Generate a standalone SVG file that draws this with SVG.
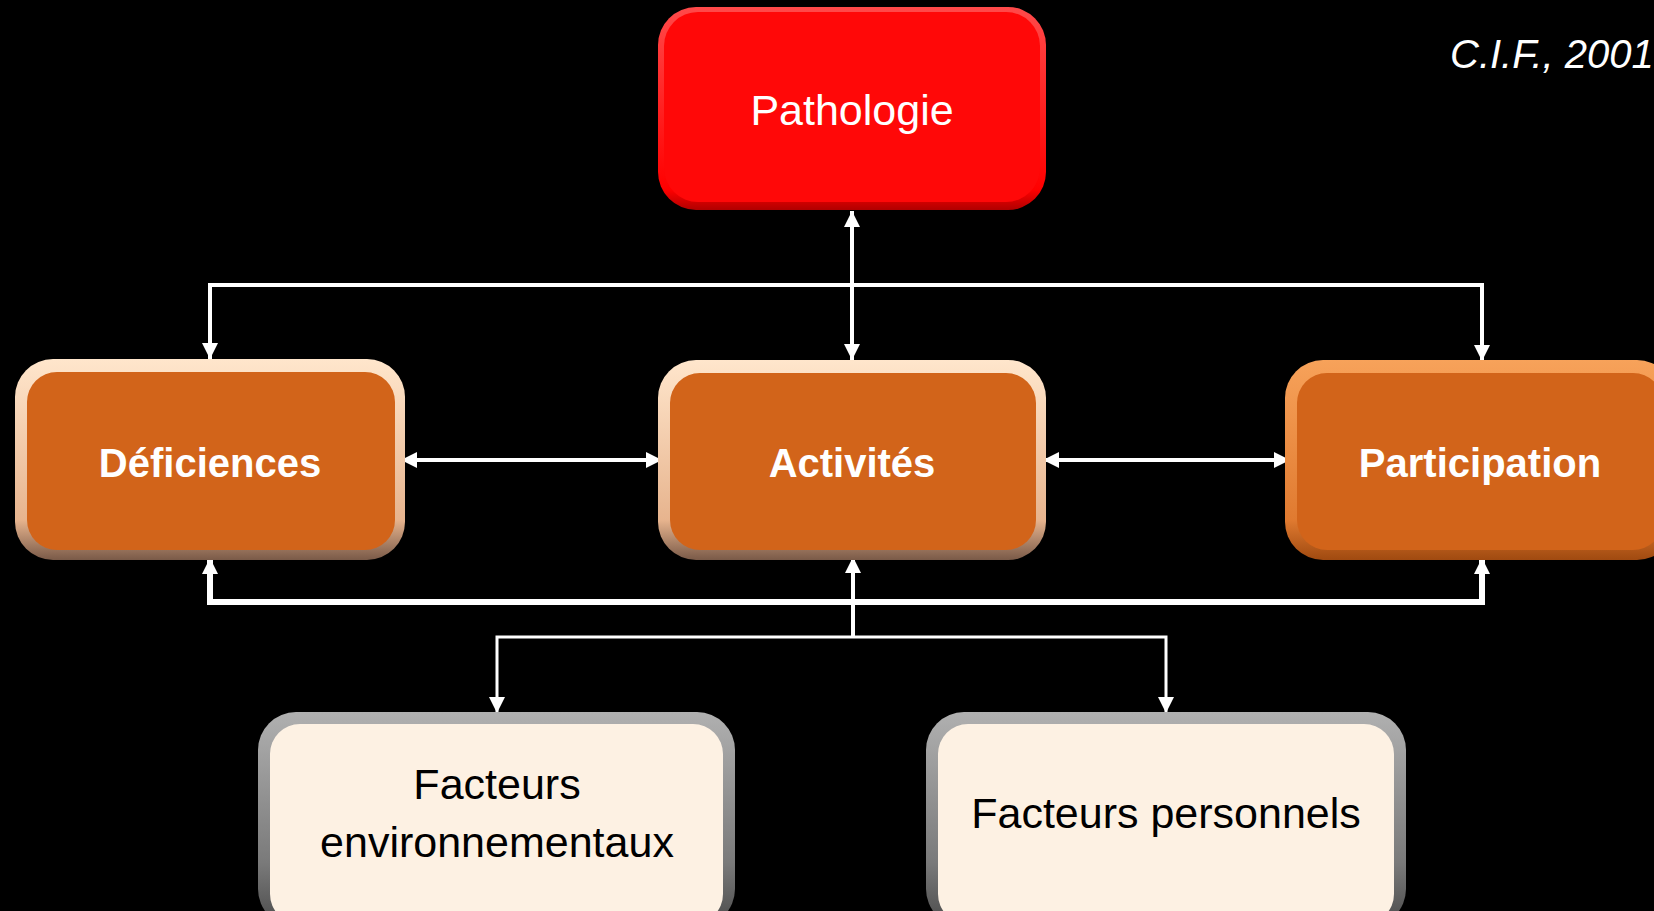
<svg xmlns="http://www.w3.org/2000/svg" width="1654" height="911" viewBox="0 0 1654 911">
<defs>
<style>
.lbl{font-family:"Liberation Sans",Arial,sans-serif;text-anchor:middle}
.w{fill:#ffffff}
.k{fill:#000000}
.b{font-weight:bold}
.con{fill:none;stroke:#ffffff;stroke-linejoin:miter}
</style>
<linearGradient id="gPeach" x1="0" y1="0" x2="0" y2="1">
<stop offset="0" stop-color="#ffe6cc"/>
<stop offset="0.8" stop-color="#e7b48e"/>
<stop offset="1" stop-color="#7a5a48"/>
</linearGradient>
<linearGradient id="gOrange" x1="0" y1="0" x2="0" y2="1">
<stop offset="0" stop-color="#f7a25a"/>
<stop offset="0.8" stop-color="#e07a30"/>
<stop offset="1" stop-color="#a04a10"/>
</linearGradient>
<linearGradient id="gGrey" x1="0" y1="0" x2="0" y2="1">
<stop offset="0" stop-color="#b0b0b0"/>
<stop offset="0.7" stop-color="#7a7a7a"/>
<stop offset="1" stop-color="#4a4a4a"/>
</linearGradient>
<linearGradient id="gRed" x1="0" y1="0" x2="0" y2="1">
<stop offset="0" stop-color="#ff4a4a"/>
<stop offset="0.9" stop-color="#ff0000"/>
<stop offset="1" stop-color="#b00000"/>
</linearGradient>
<marker id="arr" viewBox="0 0 16 16" refX="16" refY="8" markerWidth="16" markerHeight="16" markerUnits="userSpaceOnUse" orient="auto-start-reverse">
<path d="M0,0 L16,8 L0,16 Z" fill="#ffffff"/>
</marker>
</defs>
<rect width="1654" height="911" fill="#000000"/>

<g id="connectors">
<path class="con" stroke-width="4" d="M852,211 V360" marker-start="url(#arr)" marker-end="url(#arr)"/>
<path class="con" stroke-width="4" d="M210,359 V285 H1482 V361" marker-start="url(#arr)" marker-end="url(#arr)"/>
<path class="con" stroke-width="4" d="M401,460 H662" marker-start="url(#arr)" marker-end="url(#arr)"/>
<path class="con" stroke-width="4" d="M1043,460 H1290" marker-start="url(#arr)" marker-end="url(#arr)"/>
<path class="con" stroke-width="6" d="M210,558 V602 H1482 V558" marker-start="url(#arr)" marker-end="url(#arr)"/>
<path class="con" stroke-width="4" d="M853,637 V557" marker-end="url(#arr)"/>
<path class="con" stroke-width="3" d="M497,713 V637 H1166 V713" marker-start="url(#arr)" marker-end="url(#arr)"/>
</g>

<g id="pathologie">
<rect x="658" y="7" width="388" height="203" rx="38" fill="url(#gRed)"/>
<rect x="664" y="12" width="376" height="190" rx="34" fill="#ff0808"/>
<text class="lbl w" x="852" y="125" font-size="43">Pathologie</text>
</g>

<g id="deficiences">
<rect x="15" y="359" width="390" height="201" rx="38" fill="url(#gPeach)"/>
<rect x="27" y="372" width="368" height="178" rx="30" fill="#d2641a"/>
<text class="lbl w b" x="210" y="477" font-size="40">Déficiences</text>
</g>

<g id="activites">
<rect x="658" y="360" width="388" height="200" rx="38" fill="url(#gPeach)"/>
<rect x="670" y="373" width="366" height="177" rx="30" fill="#d2641a"/>
<text class="lbl w b" x="852" y="477" font-size="40">Activités</text>
</g>

<g id="participation">
<rect x="1285" y="360" width="390" height="200" rx="38" fill="url(#gOrange)"/>
<rect x="1297" y="373" width="366" height="177" rx="30" fill="#d2641a"/>
<text class="lbl w b" x="1480" y="477" font-size="40">Participation</text>
</g>

<g id="facteurs-env">
<rect x="258" y="712" width="477" height="215" rx="38" fill="url(#gGrey)"/>
<rect x="270" y="724" width="453" height="200" rx="30" fill="#fdf1e3"/>
<text class="lbl k" x="497" y="799" font-size="43">Facteurs</text>
<text class="lbl k" x="497" y="857" font-size="43">environnementaux</text>
</g>

<g id="facteurs-pers">
<rect x="926" y="712" width="480" height="215" rx="38" fill="url(#gGrey)"/>
<rect x="938" y="724" width="456" height="200" rx="30" fill="#fdf1e3"/>
<text class="lbl k" x="1166" y="828" font-size="43">Facteurs personnels</text>
</g>

<text x="1450" y="68" font-family="Liberation Sans, Arial, sans-serif" font-style="italic" font-size="40" fill="#ffffff">C.I.F., 2001</text>
</svg>
